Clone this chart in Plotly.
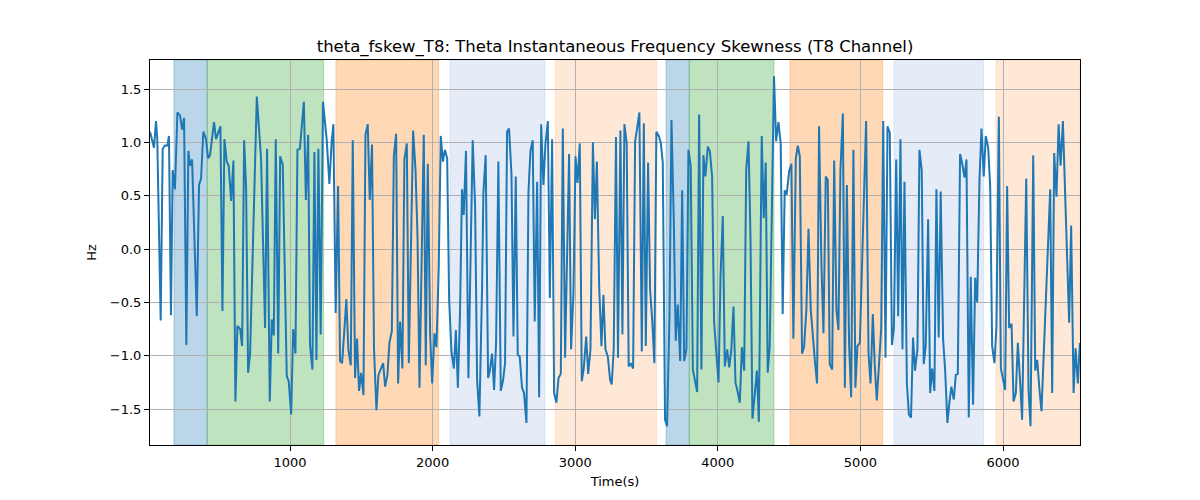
import plotly.graph_objects as go

# ---- data ----
t_a = [18,46,60,69,93,107,123,140,151,165,177,193,210,229,243,257,273,287,299,313,346,362,376,392,411,425,439,467,481,512,526,540,556,570,587,603,617,631,650,664,678,692,706,720,767,797,825,839,858,872,886,900,917,931,949,977,991,1008,1022,1038,1052,1069,1097,1111,1127]
v_a = [1.10,0.95,1.20,1.03,-0.67,0.94,0.97,0.97,1.06,-0.62,0.74,0.56,1.28,1.25,1.12,1.23,-0.90,0.92,0.78,0.84,-0.63,0.60,0.66,1.10,1.03,0.85,0.88,1.19,1.03,1.15,-0.58,1.03,0.82,0.78,0.45,0.83,-1.43,-0.72,-0.75,-0.91,1.02,0.57,-1.16,-0.98,1.43,0.84,-0.74,0.94,-1.43,-0.66,-0.81,1.03,-0.98,0.87,0.79,-1.19,-1.24,-1.55,-0.75,-0.98,0.93,0.94,1.38,0.46,1.07]

t_b = [1140,1157,1171,1185,1199,1215,1231,1257,1276,1292,1304,1320,1337,1351,1365,1379,1395,1409,1426,1440,1456,1470,1484,1498,1515,1529,1545,1559,1575,1589,1606,1620,1636,1653,1667,1683,1697,1714,1728,1744,1758,1772,1788,1802,1819,1833,1863,1880,1894,1908,1938,1952,1966,1983,1997,2013,2027,2043,2057,2072,2086,2102,2116,2132,2149,2163,2177]
v_b = [-0.90,-1.13,0.91,-1.04,0.94,-0.80,1.38,1.03,0.61,1.01,1.17,-0.60,0.59,-1.05,-1.07,-0.80,-0.47,-0.94,-1.09,1.02,-1.21,-0.84,-1.33,-1.16,-1.37,1.07,1.17,0.46,0.98,-0.94,-1.51,-1.18,-1.12,-1.07,-1.29,-1.18,-0.88,-0.77,0.87,1.08,-1.26,-0.68,-1.12,0.84,0.99,-1.07,1.11,0.74,0.12,-1.30,1.07,-1.09,0.80,-0.82,-1.26,-0.79,-0.92,-0.16,1.06,0.82,0.93,0.85,-0.48,-0.96,-1.12,-0.76,-1.30]

t_c = [2192,2206,2218,2234,2251,2281,2298,2312,2328,2347,2356,2372,2389,2400,2417,2431,2445,2461,2478,2494,2508,2522,2536,2553,2567,2583,2597,2611,2627,2641,2658,2672,2686,2702,2716,2733,2747,2761,2777,2791,2808,2822,2838,2852,2868,2883,2899,2913,2929,2957,2971,2988,3002,3016,3032,3046,3060,3077,3091,3107,3124,3138,3152,3168,3184,3198,3212,3229,3245]
v_c = [-0.60,0.56,0.32,0.92,-1.21,1.02,0.40,-1.23,-1.57,-0.35,0.53,0.88,-1.21,-1.15,-0.98,-1.32,-0.88,0.82,-1.33,-1.23,-1.07,1.10,1.13,0.70,-0.82,0.68,-0.99,-1.01,-1.30,-1.35,-1.63,0.53,0.92,1.02,-0.68,0.63,-1.39,1.17,0.60,0.98,1.20,-0.46,1.03,-1.35,-1.44,-1.21,-1.17,1.13,-1.02,0.89,-0.94,-0.40,0.87,0.62,0.99,-1.24,-1.12,-0.82,-1.17,-0.94,1.00,0.28,0.82,-0.35,-0.91,-0.43,-0.94,-1.01,-1.23]

t_d = [3256,3270,3286,3300,3317,3331,3345,3361,3375,3389,3406,3420,3436,3450,3467,3481,3495,3511,3525,3541,3555,3569,3586,3600,3614,3630,3644,3661,3675,3691,3705,3719,3736,3750,3764,3780,3794,3810,3825,3841,3855,3869,3885,3899,3913,3930,3944,3960,3974,3988,4005,4019,4035,4049,4066,4080,4094,4110,4124,4138,4154,4169,4185,4199,4215,4229,4243,4260,4274,4288]
v_d = [-1.27,-0.94,1.05,-1.02,1.11,-0.80,1.17,0.99,-1.10,-1.07,-1.12,1.01,1.15,1.28,-0.96,1.18,-0.91,0.81,-0.38,-0.69,-1.07,1.10,1.06,1.00,0.81,-1.60,-1.66,-0.63,1.21,0.28,-0.86,-0.52,-1.05,0.55,-1.05,-0.94,0.93,0.78,-1.13,-1.23,-1.34,1.26,-1.13,0.88,0.68,0.96,0.92,0.68,-0.68,-0.94,-1.25,-0.26,0.31,-1.10,-0.94,-1.11,-0.96,-0.54,-1.25,-1.33,-1.44,-0.92,-1.14,0.74,1.01,0.12,-1.59,-1.35,-1.14,-1.62]

t_e = [4308,4322,4336,4350,4364,4394,4409,4425,4441,4455,4469,4483,4500,4516,4530,4547,4561,4575,4591,4605,4621,4636,4652,4682,4696,4710,4727,4741,4757,4771,4785,4802,4816,4832,4846,4860,4877,4891,4905,4921,4935,4951,4965,4979,4996,5040,5057,5071,5087,5101,5115,5146,5160,5176,5190,5206,5221,5235,5251,5265,5281,5295,5309,5326,5340]
v_e = [1.06,0.29,0.81,-1.16,-0.91,1.62,1.01,1.19,0.99,-0.61,0.55,0.51,0.73,0.80,-0.84,0.85,0.97,0.87,-0.98,-0.92,-0.57,0.19,-0.57,-1.07,-1.26,1.15,-0.16,-0.79,0.68,0.65,-1.08,-1.13,0.83,-0.57,-0.76,0.74,1.27,-1.30,0.60,-0.91,-1.39,0.93,-1.30,-0.91,-0.88,1.20,-0.98,-1.26,-0.61,-1.10,-1.42,-0.74,1.20,-1.02,1.15,1.09,-0.90,-0.74,0.84,-0.63,1.03,-0.94,0.63,-1.26,-1.55]

t_f = [5355,5369,5383,5400,5414,5430,5444,5458,5475,5489,5503,5519,5533,5549,5563,5580,5594,5610,5624,5638,5655,5669,5683,5699,5713,5730,5744,5760,5774,5790,5805,5819,5835,5849,5865,5879,5896,5910,5924,5940,5954,5971,5985,6001,6015,6029,6043,6060,6074,6090,6104,6120,6134,6163,6179,6193,6212,6226,6240,6256,6270,6331,6345,6359,6375,6390,6404,6420,6464,6478,6495,6509,6525,6539]
v_f = [-1.58,-0.83,-1.14,-0.94,0.93,0.74,-1.08,-0.91,0.28,-1.35,-1.12,-1.33,0.56,-0.83,0.54,-0.85,-1.13,-1.63,-1.44,-1.29,-1.41,-1.18,-1.17,0.89,0.81,0.67,0.84,-1.58,-0.26,-1.46,-0.27,-0.50,0.65,1.13,0.68,1.06,0.95,0.59,-0.91,-1.07,-0.72,1.24,-1.12,-1.24,-1.32,0.59,-0.74,-0.70,-1.43,-1.35,-0.88,-1.24,-1.60,0.66,-1.32,-1.66,0.88,-1.14,-1.04,-1.32,-1.52,0.56,-1.35,0.90,0.49,1.17,0.78,1.20,-0.69,0.22,-1.35,-0.93,-1.26,-0.88]

time_s = t_a + t_b + t_c + t_d + t_e + t_f
values = v_a + v_b + v_c + v_d + v_e + v_f

# shaded intervals (start, end, colour)
band_start = [186, 419, 1322, 2122, 2860, 3637, 3800, 4506, 5235, 5951]
band_end   = [419, 1236, 2042, 2788, 3571, 3800, 4394, 5156, 5864, 6540]
band_color = ["rgba(31,119,180,0.3)", "rgba(44,160,44,0.3)", "rgba(255,127,14,0.3)",
              "rgba(125,160,215,0.2)", "rgba(255,127,14,0.17)",
              "rgba(31,119,180,0.3)", "rgba(44,160,44,0.3)", "rgba(255,127,14,0.3)",
              "rgba(125,160,215,0.2)", "rgba(255,127,14,0.17)"]

x_ticks = [1000, 2000, 3000, 4000, 5000, 6000]
y_ticks = [-1.5, -1.0, -0.5, 0.0, 0.5, 1.0, 1.5]

fig = go.Figure()
fig.add_trace(go.Scatter(x=time_s, y=values, mode="lines",
                         line=dict(color="#1f77b4", width=2), showlegend=False))

shapes = []
for s, e, c in zip(band_start, band_end, band_color):
    shapes.append(dict(type="rect", xref="x", yref="paper", x0=s, x1=e, y0=0, y1=1,
                       fillcolor=c, line=dict(width=1, color=c), layer="below"))

fig.update_layout(
    width=1192, height=492,
    margin=dict(l=142, r=120, t=52, b=55),
    paper_bgcolor="white", plot_bgcolor="white",
    font=dict(family="DejaVu Sans", size=13, color="black"),
    title=dict(text="theta_fskew_T8: Theta Instantaneous Frequency Skewness (T8 Channel)",
               x=0.5, xanchor="center", xref="paper", y=0.923, yanchor="middle",
               font=dict(size=16.5, family="DejaVu Sans")),
    shapes=shapes,
    xaxis=dict(range=[18, 6540], tickvals=x_ticks, showgrid=True, gridcolor="#b0b0b0",
               gridwidth=1, zeroline=False, showline=True, linecolor="black", linewidth=1,
               mirror=True, ticks="outside", ticklen=5, tickcolor="black",
               title=dict(text="Time(s)", standoff=8, font=dict(size=13))),
    yaxis=dict(range=[-1.837, 1.772], tickvals=y_ticks, tickformat=".1f", showgrid=True,
               gridcolor="#b0b0b0", gridwidth=1, zeroline=False, showline=True,
               linecolor="black", linewidth=1, mirror=True, ticks="outside", ticklen=5,
               tickcolor="black", title=dict(text="Hz", standoff=10, font=dict(size=13))),
)

fig.write_html("out.html")
